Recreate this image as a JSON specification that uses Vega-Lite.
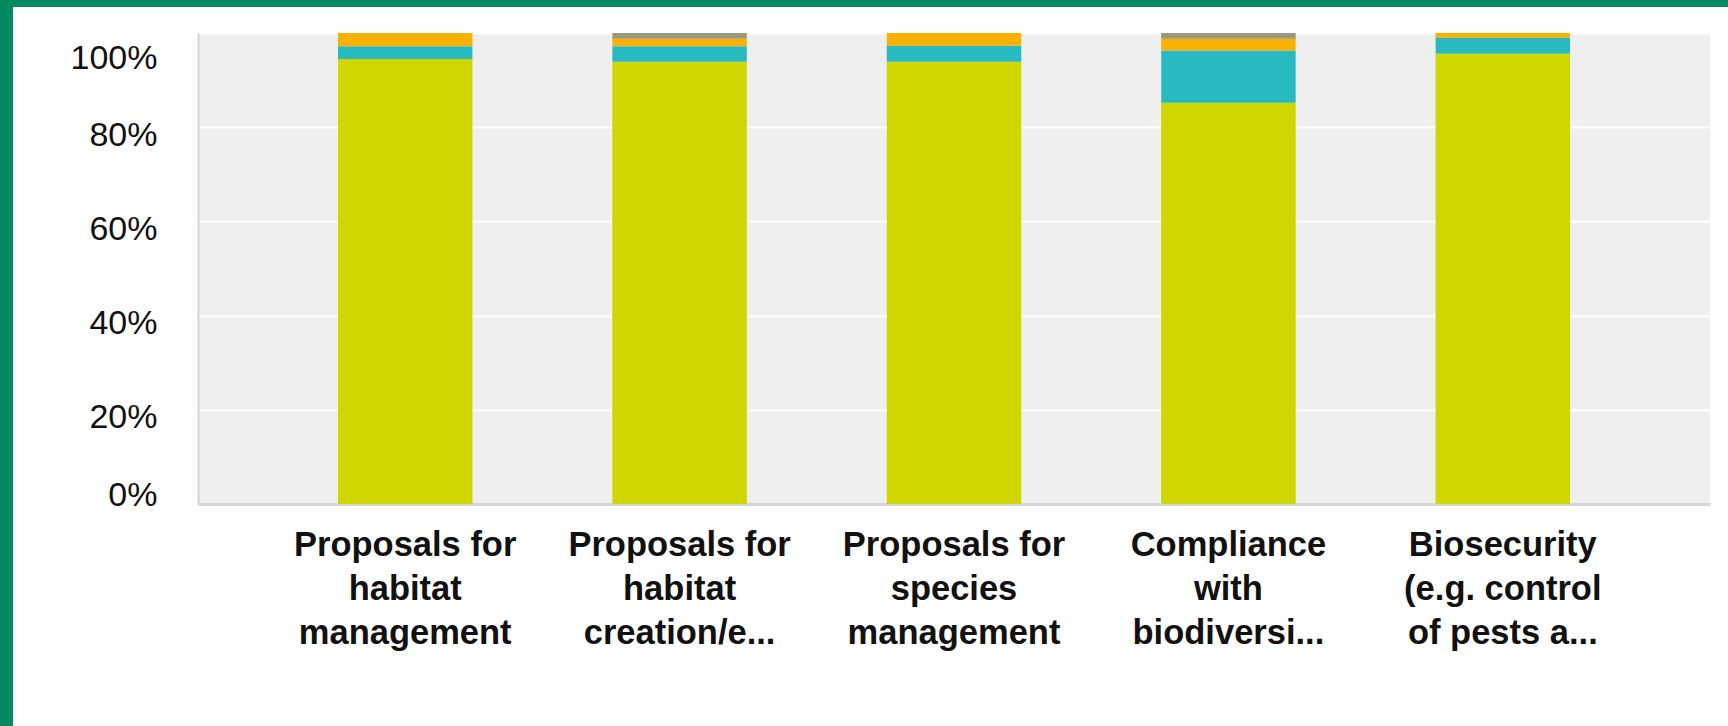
{
  "$schema": "https://vega.github.io/schema/vega-lite/v6.json",
  "background": "white",
  "padding": 0,
  "autosize": {"type": "pad"},
  "config": {
    "view": {"stroke": null},
    "font": "Liberation Sans"
  },
  "spacing": 0,
  "vconcat": [
    {
      "data": {"values": []},
      "mark": "rect",
      "encoding": {},
      "width": 1728,
      "height": 7,
      "view": {"fill": "#008a5e", "stroke": null}
    },
    {
      "spacing": 0,
      "hconcat": [
        {
          "data": {"values": []},
          "mark": "rect",
          "encoding": {},
          "width": 13,
          "height": 719,
          "view": {"fill": "#008a5e", "stroke": null}
        },
        {
          "spacing": 25,
          "vconcat": [
            {
              "data": {"values": []},
              "mark": "rect",
              "encoding": {},
              "width": 1,
              "height": 1,
              "view": {"fill": null, "stroke": null}
            },
            {
              "width": 1512,
              "height": 471,
              "view": {"fill": "#efefef", "stroke": null},
              "data": {
                "values": [
                  {"topic": "Proposals for\nhabitat\nmanagement", "response": "Yes", "percent": 94.5},
                  {"topic": "Proposals for\nhabitat\nmanagement", "response": "No", "percent": 2.7},
                  {"topic": "Proposals for\nhabitat\nmanagement", "response": "Don't know", "percent": 2.8},
                  {"topic": "Proposals for\nhabitat\ncreation/e...", "response": "Yes", "percent": 93.9},
                  {"topic": "Proposals for\nhabitat\ncreation/e...", "response": "No", "percent": 3.3},
                  {"topic": "Proposals for\nhabitat\ncreation/e...", "response": "Don't know", "percent": 1.6},
                  {"topic": "Proposals for\nhabitat\ncreation/e...", "response": "Another answer", "percent": 1.2},
                  {"topic": "Proposals for\nspecies\nmanagement", "response": "Yes", "percent": 93.9},
                  {"topic": "Proposals for\nspecies\nmanagement", "response": "No", "percent": 3.4},
                  {"topic": "Proposals for\nspecies\nmanagement", "response": "Don't know", "percent": 2.7},
                  {"topic": "Compliance\nwith\nbiodiversi...", "response": "Yes", "percent": 85.2},
                  {"topic": "Compliance\nwith\nbiodiversi...", "response": "No", "percent": 11.1},
                  {"topic": "Compliance\nwith\nbiodiversi...", "response": "Don't know", "percent": 2.5},
                  {"topic": "Compliance\nwith\nbiodiversi...", "response": "Another answer", "percent": 1.2},
                  {"topic": "Biosecurity\n(e.g. control\nof pests a...", "response": "Yes", "percent": 95.6},
                  {"topic": "Biosecurity\n(e.g. control\nof pests a...", "response": "No", "percent": 3.4},
                  {"topic": "Biosecurity\n(e.g. control\nof pests a...", "response": "Don't know", "percent": 1.0}
                ]
              },
              "mark": {"type": "bar"},
              "encoding": {
                "x": {
                  "field": "topic",
                  "type": "nominal",
                  "sort": null,
                  "scale": {"paddingInner": 0.51, "paddingOuter": 0.51},
                  "axis": {
                    "title": null,
                    "labelAngle": 0,
                    "labelExpr": "split(datum.label, '\\n')",
                    "labelFont": "Liberation Sans",
                    "labelFontSize": 34.5,
                    "labelFontWeight": "bold",
                    "labelLineHeight": 44,
                    "labelColor": "#111111",
                    "labelPadding": 24,
                    "labelLimit": 0,
                    "ticks": false,
                    "domain": true,
                    "domainColor": "#d6d6d6",
                    "domainWidth": 3,
                    "grid": false
                  }
                },
                "y": {
                  "field": "percent",
                  "type": "quantitative",
                  "stack": "normalize",
                  "scale": {"domain": [0, 1], "nice": false},
                  "axis": {
                    "title": null,
                    "format": ".0%",
                    "values": [0, 0.2, 0.4, 0.6, 0.8, 1],
                    "labelFont": "Liberation Sans",
                    "labelFontSize": 34,
                    "labelColor": "#111111",
                    "labelPadding": 41,
                    "labelFlush": true,
                    "labelOffset": 8,
                    "minExtent": 185,
                    "maxExtent": 185,
                    "ticks": false,
                    "domain": true,
                    "domainColor": "#d6d6d6",
                    "domainWidth": 2,
                    "grid": true,
                    "gridColor": "#ffffff",
                    "gridWidth": 2
                  }
                },
                "color": {
                  "field": "response",
                  "type": "nominal",
                  "scale": {
                    "domain": ["Yes", "No", "Don't know", "Another answer"],
                    "range": ["#cfd600", "#27bbc1", "#f8b100", "#9c977d"]
                  },
                  "legend": null
                }
              }
            }
          ]
        }
      ]
    }
  ]
}
